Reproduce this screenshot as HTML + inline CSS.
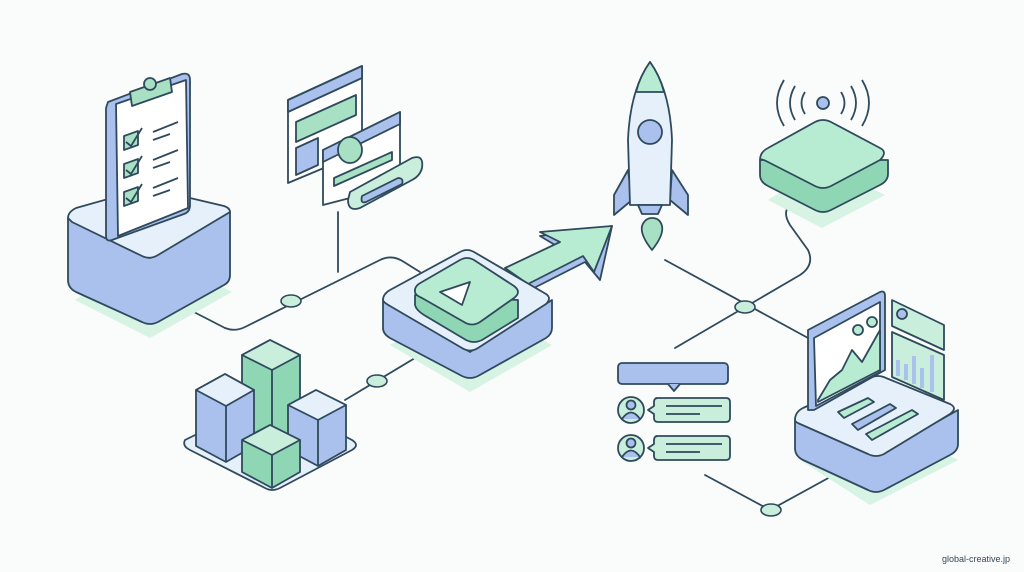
<!DOCTYPE html>
<html><head><meta charset="utf-8"><style>
html,body{margin:0;padding:0;background:#fafbfb;}
svg{display:block}
text{font-family:"Liberation Sans",sans-serif}
</style></head><body>
<svg width="1024" height="572" viewBox="0 0 1024 572" xmlns="http://www.w3.org/2000/svg">
<rect width="1024" height="572" fill="#fafbfb"/>
<g fill="none" stroke="#2f4a5c" stroke-width="1.8" stroke-linejoin="round" stroke-linecap="round">
<!-- connectors -->
<path d="M190 310 L225 328 Q235 332 245 327 L380 260 Q392 254 404 262 L420 272"/>
<line x1="338" y1="212" x2="338" y2="272"/>
<line x1="345" y1="400" x2="420" y2="355"/>
<path d="M665 260 L830 350"/>
<path d="M675 348 L800 275 Q815 265 808 250 L790 225 Q782 212 790 205"/>
<path d="M705 475 L770 510 L832 476"/>
</g>
<g stroke="#2f4a5c" stroke-width="1.6" fill="#c9eedc">
<ellipse cx="291" cy="301" rx="10" ry="6"/>
<ellipse cx="377" cy="381" rx="10" ry="6"/>
<ellipse cx="745" cy="307" rx="10" ry="6"/>
<ellipse cx="771" cy="510" rx="10" ry="6"/>
</g>

<g stroke="#2f4a5c" stroke-width="1.8" stroke-linejoin="round">
<!-- left pedestal -->
<path d="M75 300 L150 338 L232 292 L150 250Z" fill="#d6f3e4" stroke="none"/>
<path d="M68 218 L68 280 Q68 288 76 292 L142 322 Q150 326 158 322 L224 285 Q230 282 230 275 L230 212 L150 258Z" fill="#a9c1ec"/>
<path d="M68 218 Q68 212 76 208 L140 190 Q148 188 156 190 L224 206 Q230 208 230 212 L158 255 Q150 260 142 256 L72 222Z" fill="#e6f0fb"/>
<!-- clipboard -->
<path d="M108 102 L182 74 Q190 72 190 80 L190 205 Q190 212 184 214 L112 240 Q106 242 106 236 L106 108Z" fill="#a9c1ec"/>
<path d="M116 104 L186 80 L188 208 L118 236Z" fill="#fff"/>
<path d="M130 92 L170 78 L172 92 L132 106Z" fill="#a8e0c4"/>
<circle cx="150" cy="84" r="6" fill="#a8e0c4"/>
<g fill="#a8e0c4"><path d="M124 136 L138 131 L138 145 L124 150Z"/><path d="M124 164 L138 159 L138 173 L124 178Z"/><path d="M124 192 L138 187 L138 201 L124 206Z"/></g>
<g fill="none"><path d="M126 142 L131 146 L142 128"/><path d="M126 170 L131 174 L142 156"/><path d="M126 198 L131 202 L142 184"/>
<path d="M153 132 L178 122 M153 140 L170 134 M153 160 L178 150 M153 168 L170 162 M153 188 L178 178 M153 196 L170 190"/></g>
<!-- browser windows -->
<path d="M288 100 L362 66 L362 152 L288 183Z" fill="#fff"/>
<path d="M288 100 L362 66 L362 78 L288 112Z" fill="#a9c1ec"/>
<path d="M296 122 L356 95 L356 115 L296 142Z" fill="#a8e0c4"/>
<path d="M296 148 L318 138 L318 165 L296 175Z" fill="#a9c1ec"/>
<path d="M323 150 L400 112 L400 185 L323 205Z" fill="#fff"/>
<path d="M323 150 L400 112 L400 124 L323 162Z" fill="#a9c1ec"/>
<ellipse cx="350" cy="150" rx="12" ry="13" fill="#a8e0c4"/>
<path d="M334 178 L392 152 L392 160 L334 186Z" fill="#a8e0c4"/>
<path d="M350 192 L412 158 Q424 154 422 168 Q420 176 412 180 L360 208 Q348 212 348 200Z" fill="#c9eedc"/>
<path d="M362 196 L398 178 Q404 178 402 184 L366 202 Q360 204 362 196Z" fill="#a9c1ec"/>
<!-- cubes platform -->
<path d="M185 440 Q182 446 190 450 L265 488 Q272 492 280 488 L352 450 Q360 445 352 440 L280 402 L262 402Z" fill="#e6f0fb"/>
<!-- cube helper: tall green -->
<path d="M242 355 L270 340 L300 355 L300 428 L270 444 L242 428Z" fill="#8fd6b5"/>
<path d="M242 355 L270 340 L300 355 L272 370Z" fill="#c9eedc"/>
<path d="M272 370 L272 444" fill="none"/>
<!-- left blue -->
<path d="M196 390 L225 374 L254 390 L254 446 L226 462 L196 446Z" fill="#a9c1ec"/>
<path d="M196 390 L225 374 L254 390 L226 406Z" fill="#e6f0fb"/>
<path d="M226 406 L226 462" fill="none"/>
<!-- right blue -->
<path d="M288 405 L316 390 L346 405 L346 450 L318 466 L288 450Z" fill="#a9c1ec"/>
<path d="M288 405 L316 390 L346 405 L318 420Z" fill="#e6f0fb"/>
<path d="M318 420 L318 466" fill="none"/>
<!-- front green -->
<path d="M242 440 L270 425 L300 440 L300 472 L272 488 L242 472Z" fill="#8fd6b5"/>
<path d="M242 440 L270 425 L300 440 L272 455Z" fill="#c9eedc"/>
<path d="M272 455 L272 488" fill="none"/>
<!-- arrow -->
<path d="M505 275 L560 248 L540 236 L612 226 L600 280 L585 262 L530 290Z" fill="#a9c1ec"/>
<path d="M505 268 L560 242 L540 232 L612 226 L594 272 L583 256 L528 284Z" fill="#b8ecd2"/>
<!-- center box -->
<path d="M390 345 L470 392 L552 345 L470 300Z" fill="#d6f3e4" stroke="none"/>
<path d="M383 300 L383 328 Q383 334 390 338 L462 376 Q470 380 478 376 L546 338 Q552 334 552 328 L552 300 L470 352Z" fill="#a9c1ec"/>
<path d="M383 300 Q383 294 390 290 L460 252 Q467 248 474 252 L546 294 Q552 298 546 304 L478 348 Q470 353 462 348 L390 306 Q383 302 383 300Z" fill="#e6f0fb"/>
<path d="M415 295 L415 305 Q416 310 424 315 L466 340 Q474 344 482 340 L518 318 L518 300Z" fill="#8fd6b5"/>
<path d="M415 292 Q414 286 422 282 L460 260 Q467 256 474 260 L514 286 Q522 292 514 298 L480 322 Q472 327 464 322 L422 298 Q415 295 415 292Z" fill="#b8ecd2"/>
<path d="M440 292 L470 282 L462 305Z" fill="#fff"/>
<!-- rocket -->
<path d="M628 170 L614 195 L614 215 L632 200Z" fill="#a9c1ec"/>
<path d="M672 170 L688 195 L688 215 L670 200Z" fill="#a9c1ec"/>
<path d="M650 62 Q630 90 628 140 L630 205 L670 205 L672 140 Q670 90 650 62Z" fill="#e6f0fb"/>
<path d="M650 62 Q640 76 636 92 L664 92 Q660 76 650 62Z" fill="#b8ecd2"/>
<circle cx="650" cy="132" r="12" fill="#a9c1ec"/>
<path d="M638 205 L662 205 L658 214 L642 214Z" fill="#a9c1ec"/>
<path d="M652 250 Q640 235 642 226 Q645 218 652 218 Q660 218 662 226 Q664 235 652 250Z" fill="#a8e0c4"/>
<!-- router -->
<path d="M768 200 L822 228 L885 195 L825 165Z" fill="#d6f3e4" stroke="none"/>
<path d="M760 160 L760 175 Q760 182 768 186 L815 210 Q823 214 831 210 L880 185 Q888 181 888 174 L888 160Z" fill="#8fd6b5"/>
<path d="M760 160 Q760 152 768 148 L815 122 Q823 118 831 122 L880 148 Q888 152 880 160 L831 186 Q823 190 815 186 L768 162 Q760 158 760 160Z" fill="#b8ecd2"/>
<circle cx="823" cy="103" r="6" fill="#a9c1ec"/>
<g fill="none"><path d="M805 92 Q798 103 805 114 M795 86 Q785 103 795 120 M784 80 Q770 103 784 126 M841 92 Q848 103 841 114 M851 86 Q861 103 851 120 M862 80 Q876 103 862 126"/></g>
<!-- chat -->
<rect x="618" y="363" width="110" height="21" rx="4" fill="#a9c1ec"/>
<path d="M668 384 L674 391 L680 384" fill="#a9c1ec"/>
<circle cx="631" cy="410" r="13" fill="#c9eedc"/><circle cx="631" cy="405" r="4.5" fill="#a9c1ec"/><path d="M622 419 Q631 406 640 419" fill="#a9c1ec"/>
<circle cx="631" cy="448" r="13" fill="#c9eedc"/><circle cx="631" cy="443" r="4.5" fill="#a9c1ec"/><path d="M622 457 Q631 444 640 457" fill="#a9c1ec"/>
<path d="M656 398 L726 398 Q730 398 730 402 L730 418 Q730 422 726 422 L658 422 Q654 422 654 418 L654 414 L648 410 L654 406 L654 402 Q654 398 658 398Z" fill="#c9eedc"/>
<path d="M656 436 L726 436 Q730 436 730 440 L730 456 Q730 460 726 460 L658 460 Q654 460 654 456 L654 452 L648 448 L654 444 L654 440 Q654 436 658 436Z" fill="#c9eedc"/>
<path d="M666 406 L722 406 M666 414 L700 414 M666 444 L722 444 M666 452 L700 452" fill="none"/>
<!-- laptop base -->
<path d="M800 460 L870 505 L958 460 L880 418Z" fill="#d6f3e4" stroke="none"/>
<path d="M795 420 L795 448 Q795 456 803 460 L868 490 Q876 494 884 490 L950 455 Q958 451 958 444 L958 410 L878 455Z" fill="#a9c1ec"/>
<path d="M795 420 Q795 412 803 408 L870 378 Q878 374 886 378 L950 404 Q958 408 950 414 L884 454 Q876 458 868 454 L800 424 Q795 422 795 420Z" fill="#e6f0fb"/>
<path d="M808 330 L880 292 Q885 290 885 296 L885 370 L814 410 L808 410Z" fill="#a9c1ec"/>
<path d="M814 338 L880 302 L880 372 L816 406Z" fill="#fff"/>
<path d="M818 400 L830 380 L842 370 L852 350 L862 362 L880 330 L880 370 L818 402Z" fill="#b8ecd2"/>
<circle cx="858" cy="330" r="5" fill="#b8ecd2"/><circle cx="872" cy="322" r="5" fill="#b8ecd2"/>
<path d="M892 300 L944 325 L944 350 L892 326Z" fill="#c9eedc"/>
<circle cx="902" cy="314" r="5" fill="#a9c1ec"/>
<path d="M892 332 L944 355 L944 400 L892 377Z" fill="#c9eedc"/>
<path d="M898 360 L898 376 M906 364 L906 380 M914 356 L914 384 M922 368 L922 388 M932 355 L932 392" fill="none" stroke-width="4" stroke="#a9c1ec"/>
<path d="M838 412 L868 398 L874 402 L844 418Z" fill="#b8ecd2"/>
<path d="M852 424 L890 404 L896 408 L858 430Z" fill="#a9c1ec"/>
<path d="M866 434 L912 410 L918 414 L872 440Z" fill="#b8ecd2"/>
</g>
<text x="1010" y="562" font-size="9" fill="#2f4a5c" text-anchor="end">global-creative.jp</text>
</svg>
</body></html>
